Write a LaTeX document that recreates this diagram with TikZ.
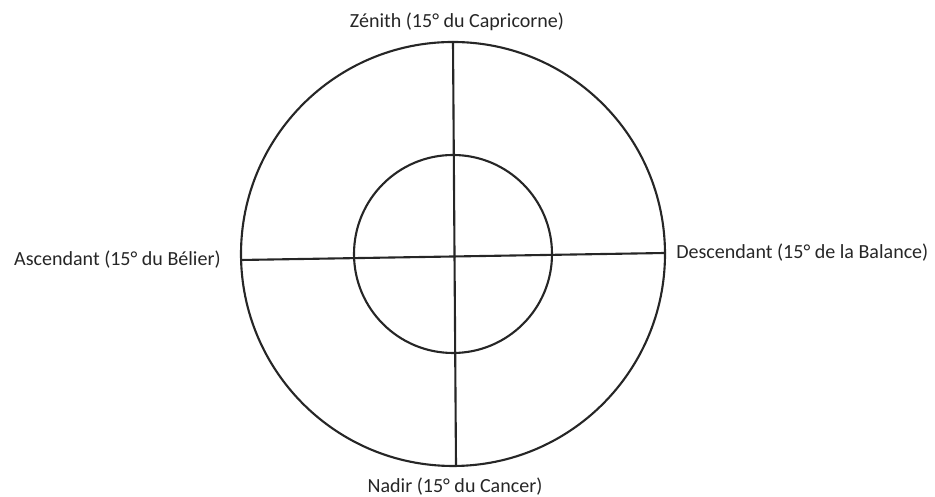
\documentclass[tikz,border=0pt]{standalone}
\usepackage{fontspec}
\setmainfont{Carlito}
\usepackage{tikz}

\begin{document}
\begin{tikzpicture}[font=\fontsize{11.4}{14}\selectfont,line cap=round,
  axe/.style={black!85,line width=1.2pt},
  lbl/.style={text=black!85,inner sep=0pt}]
\useasboundingbox (0,0) rectangle (18.7,9.94);
\draw[axe] (9.06,4.86) circle (4.24);
\draw[axe] (9.06,4.86) circle (1.98);
\coordinate (asc) at (4.82,4.74);
\coordinate (desc) at (13.30,4.88);
\coordinate (zen) at (9.06,9.10);
\coordinate (nad) at (9.12,0.62);
\draw[axe] (asc) -- (desc);
\draw[axe] (zen) -- (nad);
\node[lbl] (zenith) at (9.14,9.50) {Zénith (15° du Capricorne)};
\node[lbl,anchor=east] (ascendant) at (4.42,4.74) {Ascendant (15° du Bélier)};
\node[lbl,anchor=west] (descendant) at (13.52,4.88) {Descendant (15° de la Balance)};
\node[lbl] (nadir) at (9.10,0.20) {Nadir (15° du Cancer)};
\end{tikzpicture}
\end{document}
